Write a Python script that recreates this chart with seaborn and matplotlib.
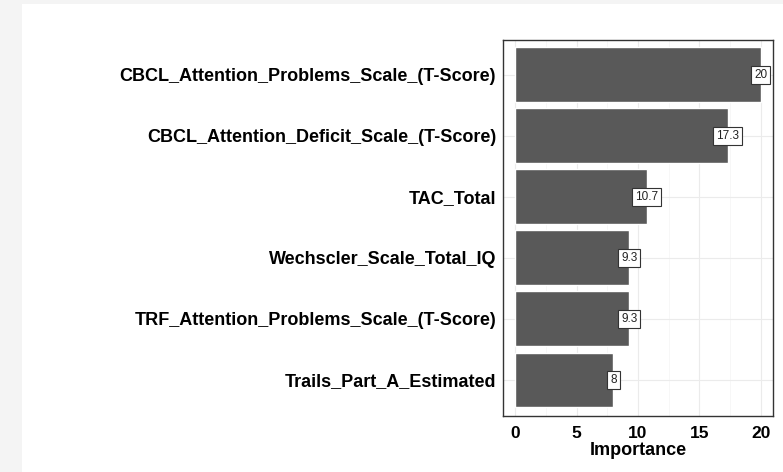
import matplotlib
matplotlib.use("Agg")
import matplotlib.pyplot as plt
import seaborn as sns
import pandas as pd
from matplotlib.patches import Rectangle

# Feature importance values
features = [
    "CBCL_Attention_Problems_Scale_(T-Score)",
    "CBCL_Attention_Deficit_Scale_(T-Score)",
    "TAC_Total",
    "Wechscler_Scale_Total_IQ",
    "TRF_Attention_Problems_Scale_(T-Score)",
    "Trails_Part_A_Estimated",
]
importance = [20, 17.3, 10.7, 9.3, 9.3, 8]
labels = ["20", "17.3", "10.7", "9.3", "9.3", "8"]
x_ticks = [0, 5, 10, 15, 20]

df = pd.DataFrame({"feature": features, "importance": importance})

sns.set_style("white")
plt.rcParams["font.family"] = ["Liberation Sans", "DejaVu Sans"]

fig = plt.figure(figsize=(7.83, 4.72), dpi=100, facecolor="#f4f4f4")
# white page area, leaving a grey strip left and top
fig.patches.append(Rectangle((22 / 783, 0), 1, 1 - 4 / 472, transform=fig.transFigure,
                             facecolor="white", edgecolor="none", zorder=-10))
ax = fig.add_axes([503 / 783, 1 - 416 / 472, 270 / 783, 376 / 472])
ax.set_zorder(1)

sns.barplot(data=df, x="importance", y="feature", color="#595959", saturation=1,
            width=0.9, ax=ax, zorder=2)

for i, (v, t) in enumerate(zip(importance, labels)):
    ax.text(v, i, t, ha="center", va="center", fontsize=8.5, color="#222222", zorder=4,
            bbox=dict(boxstyle="square,pad=0.25", facecolor="white", edgecolor="#333333", linewidth=0.8))

ax.set_xlim(-1, 21)
ax.set_ylim(5.59, -0.57)
ax.set_xticks(x_ticks)
ax.set_xticks([2.5, 7.5, 12.5, 17.5], minor=True)
ax.grid(True, which="major", color="#ebebeb", linewidth=0.8, zorder=0)
ax.grid(True, which="minor", axis="x", color="#f4f4f4", linewidth=0.5, zorder=0)
ax.set_axisbelow(True)
for s in ax.spines.values():
    s.set_color("#333333")
    s.set_linewidth(1.0)

ax.tick_params(axis="y", which="major", length=3, width=0.8, color="#333333",
               labelsize=13, labelcolor="black", pad=2)
ax.tick_params(axis="x", which="major", length=3, width=0.8, color="#333333",
               labelsize=12.5, labelcolor="black", pad=4)
ax.tick_params(axis="both", which="minor", length=0)
for lab in ax.get_xticklabels() + ax.get_yticklabels():
    lab.set_fontweight("bold")
ax.set_ylabel("")
ax.set_xlabel("Importance", fontsize=13, fontweight="bold", color="black", labelpad=1)

fig.savefig("out.png", dpi=100, facecolor=fig.get_facecolor())
